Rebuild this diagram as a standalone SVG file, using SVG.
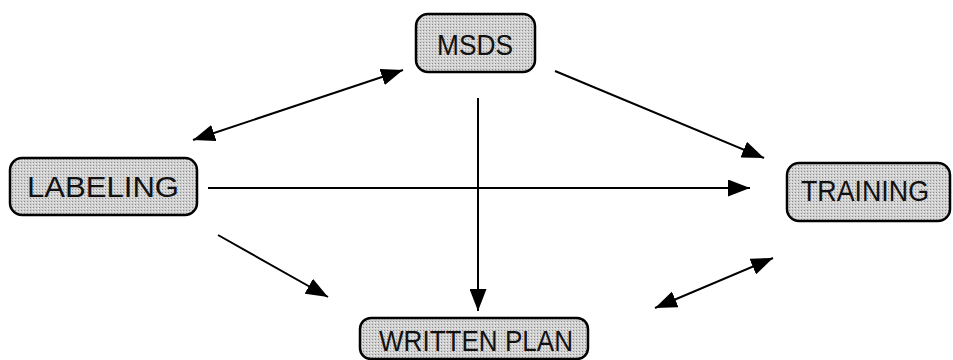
<svg xmlns="http://www.w3.org/2000/svg" width="953" height="360" viewBox="0 0 953 360">
  <style>
    .box { fill: url(#stipple); stroke: #000; stroke-width: 2.5; }
    .lbl { font-family: "Liberation Sans", Arial, sans-serif; font-size: 29px; fill: #111; text-anchor: middle; }
    .con { stroke: #000; stroke-width: 2; fill: none; marker-end: url(#ah); }
    .dbl { marker-start: url(#ah); }
  </style>
  <defs>
    <pattern id="stipple" width="3" height="3" patternUnits="userSpaceOnUse">
      <rect width="3" height="3" fill="#d0d0d0"/>
      <rect width="1" height="1" fill="#8c8c8c"/>
      <rect x="2" y="1" width="1" height="1" fill="#efefef"/>
    </pattern>
    <marker id="ah" markerWidth="22" markerHeight="17" refX="22" refY="8.5" orient="auto-start-reverse" markerUnits="userSpaceOnUse">
      <path d="M0,0 L22,8.5 L0,17 Z" fill="#000"/>
    </marker>
  </defs>
  <g id="connectors">
    <line class="con dbl" x1="193" y1="140" x2="403" y2="70"/>
    <line class="con" x1="555" y1="71" x2="764" y2="158"/>
    <line class="con" x1="478" y1="98" x2="478" y2="311"/>
    <line class="con" x1="208" y1="188" x2="750" y2="188"/>
    <line class="con" x1="218" y1="235" x2="328" y2="297"/>
    <line class="con dbl" x1="655" y1="308" x2="773" y2="258"/>
  </g>
  <g id="msds">
    <rect class="box" x="416" y="14" width="119" height="58" rx="12"/>
    <text class="lbl" x="475" y="55" textLength="76" lengthAdjust="spacingAndGlyphs">MSDS</text>
  </g>
  <g id="labeling">
    <rect class="box" x="10" y="158" width="187" height="57" rx="12"/>
    <text class="lbl" x="103" y="197" textLength="152" lengthAdjust="spacingAndGlyphs">LABELING</text>
  </g>
  <g id="training">
    <rect class="box" x="787" y="163" width="163" height="58" rx="12"/>
    <text class="lbl" x="865" y="201" textLength="128" lengthAdjust="spacingAndGlyphs">TRAINING</text>
  </g>
  <g id="written-plan">
    <rect class="box" x="360" y="318" width="228" height="41" rx="11"/>
    <text class="lbl" x="476" y="351" textLength="194" lengthAdjust="spacingAndGlyphs">WRITTEN PLAN</text>
  </g>
</svg>
